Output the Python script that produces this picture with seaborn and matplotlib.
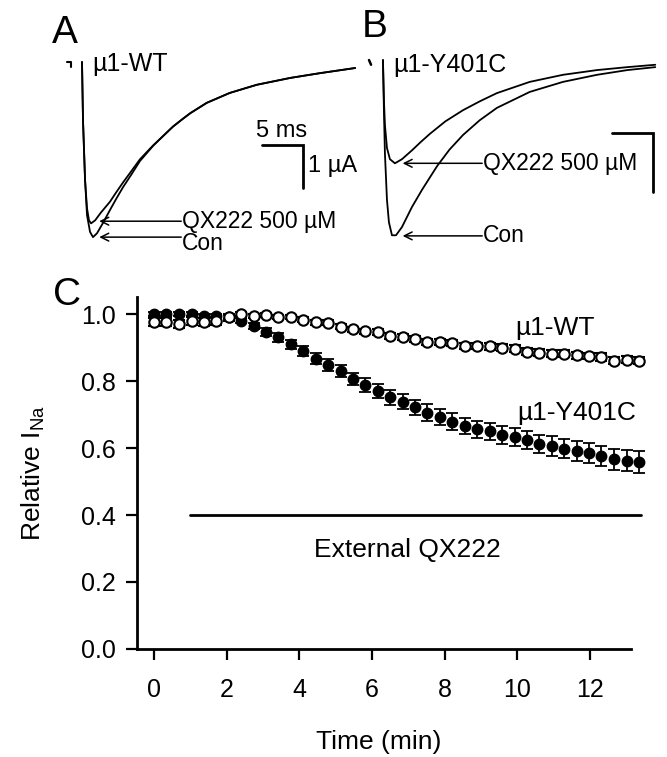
import numpy as np
import pandas as pd
import matplotlib
matplotlib.use("Agg")
import matplotlib.pyplot as plt
import seaborn as sns

sns.set_theme(style="ticks")
plt.rcParams["font.family"] = ["Liberation Sans", "DejaVu Sans"]
plt.rcParams["mathtext.default"] = "regular"
for key in ("text.color", "axes.labelcolor", "xtick.color", "ytick.color", "axes.edgecolor"):
    plt.rcParams[key] = "black"

# Panel A: mu1-WT current traces (time ms, current uA)
a_con_t = [0, 0.12, 0.37, 0.61, 0.98, 1.34, 1.83, 2.56, 3.41, 4.2, 5.0, 6.0, 7.07, 8.66,
           10.0, 11.1, 12.3, 13.2, 15.2, 18.0, 21.3, 25.4, 29.0, 33.3]
a_con_i = [0, -1.35, -2.74, -3.56, -3.95, -4.07, -3.98, -3.74, -3.44, -3.17, -2.91, -2.62,
           -2.30, -1.95, -1.70, -1.50, -1.32, -1.19, -0.95, -0.72, -0.53, -0.37, -0.26, -0.14]
a_qx_t = [0, 0.12, 0.37, 0.61, 0.85, 1.1, 1.6, 2.3, 3.4, 4.2, 5.0, 6.0, 7.07, 8.66,
          10.0, 11.1, 12.3, 13.2, 15.2, 18.0, 21.3, 25.4, 29.0, 33.3]
a_qx_i = [0, -1.35, -2.74, -3.4, -3.68, -3.75, -3.68, -3.5, -3.25, -3.02, -2.80, -2.54,
          -2.26, -1.94, -1.70, -1.50, -1.32, -1.19, -0.95, -0.72, -0.53, -0.37, -0.26, -0.14]

# Panel B: mu1-Y401C current traces
b_con_t = [0, 0.12, 0.24, 0.49, 0.73, 1.10, 1.59, 2.32, 3.54, 4.76, 6.59, 8.1, 9.76, 11.8,
           13.9, 17.9, 21.95, 26.1, 29.8, 33.2]
b_con_i = [0.0, -0.85, -1.58, -2.37, -2.75, -2.97, -2.97, -2.83, -2.49, -2.20, -1.80,
           -1.52, -1.27, -1.02, -0.81, -0.54, -0.37, -0.25, -0.17, -0.12]
b_qx_t = [0, 0.12, 0.24, 0.49, 0.85, 1.46, 2.32, 3.54, 4.6, 5.73, 7.6, 9.76, 11.8, 13.9,
          17.9, 21.95, 26.1, 29.8, 33.2]
b_qx_i = [0.0, -0.68, -1.10, -1.49, -1.68, -1.75, -1.68, -1.53, -1.39, -1.25, -1.04,
          -0.85, -0.70, -0.56, -0.37, -0.25, -0.17, -0.12, -0.08]

# Panel C: relative I_Na over time
time_min = [0.0, 0.34, 0.68, 1.03, 1.37, 1.71, 2.05, 2.39, 2.74, 3.08, 3.42, 3.76, 4.10,
            4.45, 4.79, 5.13, 5.47, 5.81, 6.16, 6.50, 6.84, 7.18, 7.52, 7.87, 8.21, 8.55,
            8.89, 9.23, 9.58, 9.92, 10.26, 10.60, 10.94, 11.29, 11.63, 11.97, 12.31,
            12.65, 13.00, 13.34]
wt_mean = [0.977, 0.977, 0.970, 0.980, 0.977, 0.980, 0.990, 1.000, 0.993, 0.998, 0.991,
           0.992, 0.983, 0.975, 0.974, 0.962, 0.954, 0.948, 0.946, 0.934, 0.932, 0.926,
           0.917, 0.917, 0.915, 0.906, 0.904, 0.904, 0.900, 0.897, 0.888, 0.885, 0.882,
           0.882, 0.877, 0.875, 0.872, 0.861, 0.864, 0.861]
wt_sem = [0.012, 0.012, 0.012, 0.012, 0.012, 0.012, 0.01, 0.006, 0.006, 0.006, 0.006,
          0.006, 0.007, 0.007, 0.007, 0.007, 0.008, 0.008, 0.008, 0.008, 0.008, 0.009,
          0.009, 0.009, 0.009, 0.009, 0.009, 0.01, 0.01, 0.01, 0.01, 0.01, 0.01, 0.01,
          0.01, 0.01, 0.011, 0.011, 0.011, 0.011]
mut_mean = [1.000, 1.000, 1.000, 1.000, 0.995, 0.993, 0.990, 0.980, 0.964, 0.945, 0.930,
            0.910, 0.890, 0.867, 0.848, 0.830, 0.806, 0.788, 0.771, 0.751, 0.738, 0.721,
            0.706, 0.693, 0.679, 0.666, 0.656, 0.650, 0.639, 0.632, 0.624, 0.612, 0.606,
            0.598, 0.591, 0.584, 0.576, 0.566, 0.562, 0.559]
mut_sem = [0.006, 0.006, 0.006, 0.006, 0.006, 0.006, 0.006, 0.008, 0.010, 0.012, 0.013,
           0.014, 0.015, 0.016, 0.017, 0.018, 0.019, 0.020, 0.021, 0.022, 0.022, 0.023,
           0.024, 0.024, 0.025, 0.025, 0.026, 0.026, 0.027, 0.027, 0.028, 0.028, 0.029,
           0.029, 0.030, 0.030, 0.031, 0.031, 0.032, 0.033]
drug_bar = [1.0, 13.4]
drug_level = 0.4

fig = plt.figure(figsize=(6.67, 7.57), dpi=100)

trace_kw = dict(color="black", linewidth=1.3, sort=False, estimator=None)
arrow_kw = dict(arrowstyle="->", color="black", lw=1.1, mutation_scale=14,
                shrinkA=0, shrinkB=0)


def trace_panel(ax, con_t, con_i, qx_t, qx_i, label, qx_y, con_y, con_text_y, tip_x,
                bar_x, bar_y, bar_h):
    sns.lineplot(x=con_t, y=con_i, ax=ax, **trace_kw)
    sns.lineplot(x=qx_t, y=qx_i, ax=ax, **trace_kw)
    ax.text(1.3, -0.2, label, fontsize=18, va="baseline", ha="left")
    ax.annotate("", xy=(tip_x, qx_y), xytext=(12.1, qx_y), arrowprops=arrow_kw)
    ax.text(12.2, qx_y, "QX222 500 \u00b5M", fontsize=16.5, va="center", ha="left")
    ax.annotate("", xy=(tip_x, con_y), xytext=(12.1, con_y), arrowprops=arrow_kw)
    ax.text(12.2, con_text_y, "Con", fontsize=16.5, va="center", ha="left")
    ax.plot([bar_x, bar_x + 5, bar_x + 5], [bar_y, bar_y, bar_y - bar_h],
            color="black", linewidth=2, solid_joinstyle="miter")
    ax.axis("off")


# panel A
axA = fig.add_axes([0.060, 0.6697, 0.4798, 0.2774])
axA.set_xlim(-5.12, 33.9)
axA.set_ylim(-4.37, 0.51)
trace_panel(axA, a_con_t, a_con_i, a_qx_t, a_qx_i, "\u00b51-WT",
            -3.70, -4.07, -4.22, 2.1, 21.95, -1.93, 1.0)
axA.plot([-1.8, -1.3, -1.3], [0, 0, -0.12], color="black", linewidth=1.5)
axA.text(24.3, -1.74, "5 ms", fontsize=17, ha="center", va="baseline")
axA.text(27.6, -2.42, "1 \u00b5A", fontsize=17, ha="left", va="center")

# panel B
axB = fig.add_axes([0.5397, 0.6697, 0.4603, 0.2774])
axB.set_xlim(-2.80, 34.63)
axB.set_ylim(-3.22, 0.339)
trace_panel(axB, b_con_t, b_con_i, b_qx_t, b_qx_i, "\u00b51-Y401C",
            -1.75, -2.98, -2.98, 2.4, 27.9, -1.24, 1.0)
axB.plot([-1.7, -1.45], [0.0, -0.08], color="black", linewidth=1.8)

# panel C
ax = fig.add_axes([0.2054, 0.1427, 0.7399, 0.465])
ax.errorbar(time_min, mut_mean, yerr=mut_sem, fmt="o", color="black", ms=7.5,
            mfc="black", mec="black", capsize=4, elinewidth=1.3, capthick=1.3,
            clip_on=False, zorder=3)
ax.errorbar(time_min, wt_mean, yerr=wt_sem, fmt="o", color="black", ms=7.5,
            mfc="white", mec="black", mew=1.5, capsize=4, elinewidth=1.3,
            capthick=1.3, clip_on=False, zorder=4)
sns.lineplot(x=drug_bar, y=[drug_level, drug_level], ax=ax, color="black",
             linewidth=2, clip_on=False)
ax.text(6.97, 0.276, "External QX222", fontsize=19, ha="center", va="baseline")
ax.text(9.95, 0.937, "\u00b51-WT", fontsize=19, ha="left", va="baseline")
ax.text(10.0, 0.684, "\u00b51-Y401C", fontsize=19, ha="left", va="baseline")

ax.set_xlim(-0.47, 13.11)
ax.set_ylim(0, 1.051)
ax.set_xticks(range(0, 13, 2))
ax.set_yticks([0.0, 0.2, 0.4, 0.6, 0.8, 1.0])
ax.set_yticklabels([f"{v:.1f}" for v in [0.0, 0.2, 0.4, 0.6, 0.8, 1.0]])
ax.tick_params(axis="both", direction="out", length=8, width=1.6, labelsize=18,
               color="black", labelcolor="black")
ax.tick_params(axis="x", pad=13)
ax.tick_params(axis="y", pad=7)
sns.despine(ax=ax)
for side in ("left", "bottom"):
    ax.spines[side].set_linewidth(2)
    ax.spines[side].set_color("black")
ax.set_xlabel("Time (min)", fontsize=19, color="black")
ax.set_ylabel("Relative I$_{Na}$", fontsize=19, color="black")
ax.xaxis.set_label_coords(0.489, -0.23)
ax.yaxis.set_label_coords(-0.183, 0.5)

fig.text(52 / 667, 1 - 43 / 757, "A", fontsize=28, ha="left", va="baseline")
fig.text(362 / 667, 1 - 37 / 757, "B", fontsize=28, ha="left", va="baseline")
fig.text(53 / 667, 1 - 305 / 757, "C", fontsize=28, ha="left", va="baseline")

fig.savefig("out.png", dpi=100)
